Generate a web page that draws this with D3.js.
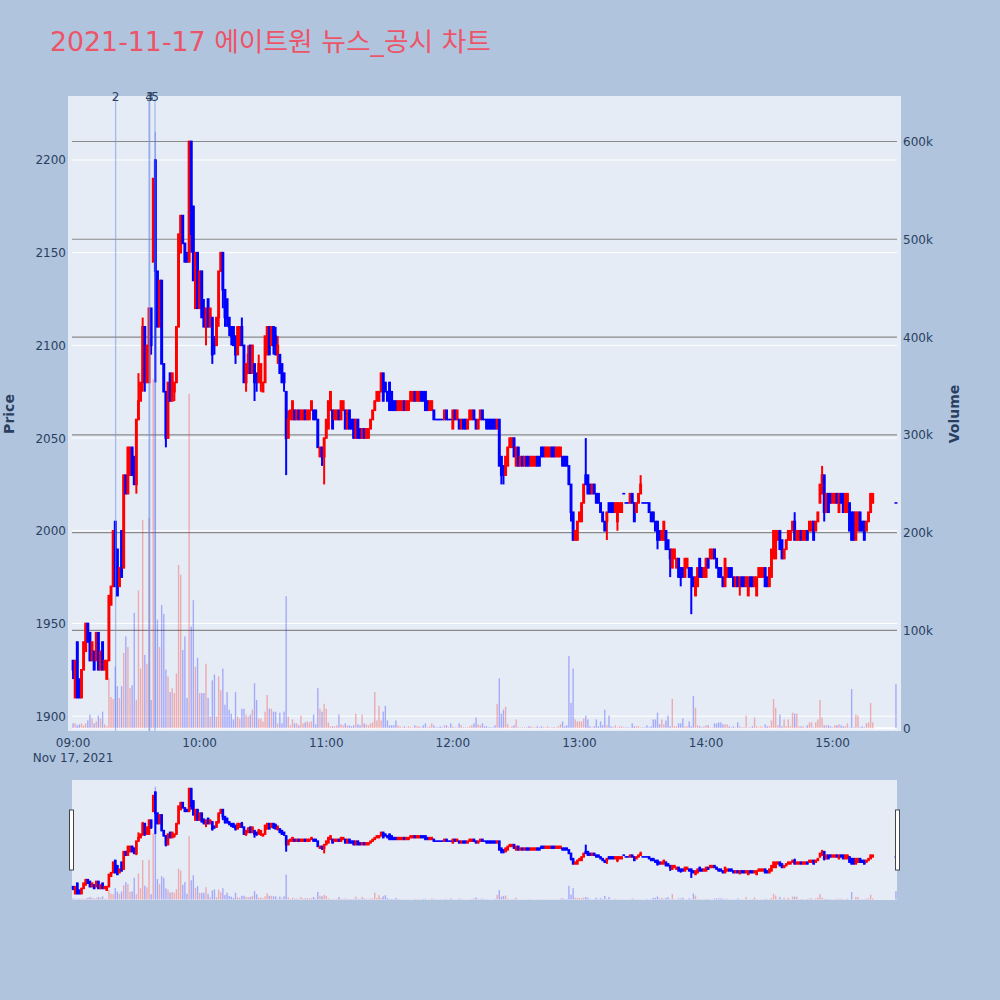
<!DOCTYPE html>
<html><head><meta charset="utf-8">
<script src="https://cdn.jsdelivr.net/npm/d3@7/dist/d3.min.js"></script>
<style>body{margin:0;background:#b0c4de;} svg{display:block}</style>
</head><body><svg id="c" width="1000" height="1000"></svg>
<script>
const chartTitle = "2021-11-17 에이트원 뉴스_공시 차트";
const sessionStart = new Date(2021,10,17,9,0);
const sessionBreak = new Date(2021,10,17,15,20);
const closingAuction = new Date(2021,10,17,15,30);
const priceTicks = [1900,1950,2000,2050,2100,2150,2200];
const volumeTicksK = [0,100,200,300,400,500,600];
const newsLabels = ["2","3","4","5"];
const newsTimes = ["09:20:10","09:36:20","09:36:00","09:38:50"];

const opens = [
1930,1910,1940,1920,1910,1925,1935,1950,1945,1930,
1935,1930,1945,1925,1940,1925,1920,1930,1960,1970,
2005,1990,1970,2000,1980,2030,2020,2030,2045,2040,
2025,2060,2070,2080,2110,2080,2080,2120,2145,2200,
2140,2110,2135,2090,2075,2050,2085,2070,2075,2080,
2110,2150,2170,2155,2150,2145,2210,2175,2120,2150,
2120,2140,2120,2110,2125,2110,2115,2100,2100,2115,
2140,2150,2130,2125,2115,2110,2110,2105,2095,2100,
2110,2100,2080,2085,2100,2085,2090,2085,2080,2080,
2075,2080,2095,2110,2100,2110,2105,2095,2095,2090,
2085,2075,2050,2060,2060,2065,2060,2065,2060,2060,
2065,2060,2060,2065,2065,2065,2060,2040,2045,2040,
2050,2055,2065,2065,2060,2060,2065,2060,2065,2065,
2055,2065,2060,2060,2050,2060,2055,2050,2055,2050,
2050,2055,2060,2065,2070,2070,2075,2085,2080,2075,
2080,2075,2070,2070,2065,2065,2065,2070,2065,2065,
2070,2070,2075,2070,2070,2075,2075,2075,2070,2065,
2065,2065,2060,2060,2060,2060,2060,2065,2060,2060,
2055,2065,2060,2060,2055,2060,2060,2055,2060,2060,
2065,2060,2055,2060,2065,2060,2060,2060,2060,2060,
2060,2055,2060,2040,2035,2030,2035,2045,2045,2050,
2035,2045,2035,2040,2035,2040,2040,2035,2035,2035,
2040,2040,2045,2045,2040,2040,2040,2045,2045,2040,
2040,2040,2040,2040,2040,2035,2025,2010,1995,1995,
2005,2005,2015,2030,2030,2025,2020,2025,2020,2020,
2015,2010,2005,2005,2015,2015,2015,2010,2005,2010,
2010,2020,2015,2015,2015,2020,2015,2010,2015,2020,
2015,2015,2015,2015,2010,2010,2005,2005,2000,1995,
1995,2000,1995,1990,1980,1985,1980,1985,1980,1980,
1975,1980,1980,1980,1975,1965,1970,1985,1980,1975,
1975,1985,1985,1985,1990,1985,1980,1980,1975,1970,
1975,1980,1980,1975,1970,1975,1970,1975,1975,1970,
1965,1975,1975,1970,1965,1975,1975,1975,1980,1975,
1970,1975,1985,1985,1995,2000,1995,1985,1990,1995,
1995,2000,2005,1995,1995,2000,1995,1995,2000,2000,
2000,2005,2000,2005,2015,2020,2030,2010,2020,2020,
2015,2015,2020,2010,2020,2020,2010,2010,2015,2010,
2010,1995,2000,2010,2005,2005,2000,2005,2010,2015,
2015];
const highs = [
1930,1930,1940,1920,1925,1940,1950,1950,1945,1940,
1935,1945,1945,1935,1940,1930,1930,1965,1970,2000,
2005,1990,1980,2000,2030,2030,2045,2045,2045,2040,
2060,2085,2080,2115,2110,2100,2120,2120,2190,2200,
2140,2135,2135,2090,2075,2080,2085,2085,2080,2110,
2160,2170,2170,2155,2150,2210,2210,2175,2150,2150,
2140,2140,2125,2120,2125,2120,2115,2105,2115,2140,
2150,2150,2130,2125,2115,2110,2110,2105,2110,2110,
2115,2100,2090,2100,2100,2100,2090,2085,2095,2090,
2080,2105,2110,2110,2110,2110,2110,2105,2095,2090,
2085,2075,2065,2065,2070,2065,2065,2065,2065,2065,
2065,2065,2065,2070,2065,2065,2060,2045,2045,2050,
2060,2070,2075,2065,2065,2065,2065,2070,2070,2065,
2065,2065,2060,2060,2060,2060,2055,2055,2055,2055,
2055,2060,2065,2070,2075,2075,2085,2085,2080,2075,
2080,2075,2070,2070,2070,2070,2070,2070,2070,2070,
2075,2075,2075,2075,2075,2075,2075,2075,2070,2070,
2070,2065,2060,2060,2060,2060,2065,2065,2060,2060,
2065,2065,2065,2060,2060,2060,2060,2060,2065,2065,
2065,2060,2060,2065,2065,2060,2060,2060,2060,2060,
2060,2060,2060,2040,2035,2040,2045,2050,2050,2050,
2045,2045,2040,2040,2040,2040,2040,2040,2040,2040,
2040,2040,2045,2045,2045,2045,2045,2045,2045,2045,
2045,2045,2040,2040,2040,2035,2025,2010,2000,2005,
2010,2015,2025,2050,2030,2025,2025,2025,2020,2020,
2015,2010,2005,2010,2015,2015,2015,2015,2015,2015,
2015,2020,2015,2015,2020,2020,2015,2015,2020,2030,
2015,2015,2015,2015,2010,2010,2005,2005,2000,2000,
2005,2000,1995,1990,1990,1990,1985,1985,1980,1980,
1985,1985,1980,1980,1975,1975,1980,1985,1980,1980,
1985,1985,1990,1990,1990,1985,1980,1980,1975,1985,
1980,1980,1980,1975,1975,1975,1975,1975,1975,1975,
1975,1975,1975,1975,1975,1980,1980,1980,1980,1975,
1980,1990,2000,2000,2000,2000,1995,1990,1995,2000,
2000,2005,2010,2000,2000,2000,2000,2000,2000,2005,
2005,2005,2005,2010,2025,2035,2030,2020,2020,2020,
2020,2020,2020,2020,2020,2020,2020,2020,2015,2010,
2010,2010,2010,2010,2005,2005,2005,2010,2020,2020,
2015];
const lows = [
1920,1910,1910,1910,1910,1925,1935,1940,1930,1930,
1925,1930,1925,1925,1925,1925,1920,1930,1960,1970,
1970,1965,1970,1975,1980,2020,2020,2030,2030,2025,
2020,2060,2070,2075,2075,2080,2080,2095,2145,2080,
2110,2110,2090,2075,2045,2050,2070,2070,2070,2080,
2110,2150,2155,2145,2145,2145,2150,2135,2120,2120,
2120,2115,2110,2100,2110,2110,2090,2095,2100,2110,
2140,2120,2110,2110,2105,2100,2100,2090,2095,2100,
2100,2080,2075,2085,2085,2085,2070,2075,2080,2075,
2075,2080,2095,2095,2100,2095,2095,2090,2085,2080,
2075,2030,2050,2060,2060,2060,2060,2060,2060,2060,
2060,2060,2060,2065,2060,2060,2045,2040,2035,2025,
2050,2055,2065,2055,2060,2060,2060,2060,2065,2055,
2055,2055,2055,2050,2050,2050,2050,2050,2050,2050,
2050,2055,2060,2065,2070,2070,2075,2070,2075,2070,
2065,2065,2065,2065,2065,2065,2065,2065,2065,2065,
2070,2070,2070,2070,2070,2070,2070,2065,2065,2065,
2065,2060,2060,2060,2060,2060,2060,2060,2060,2060,
2055,2060,2060,2055,2055,2055,2055,2055,2060,2060,
2060,2055,2055,2060,2060,2060,2055,2055,2055,2055,
2055,2055,2035,2025,2025,2030,2035,2045,2045,2040,
2035,2035,2035,2035,2035,2035,2035,2035,2035,2035,
2035,2035,2040,2040,2040,2040,2040,2040,2040,2040,
2040,2040,2035,2035,2035,2025,2005,1995,1995,1995,
2005,2005,2015,2025,2020,2020,2020,2020,2015,2015,
2010,2005,2000,1995,2010,2010,2010,2010,2000,2010,
2010,2020,2015,2015,2015,2015,2005,2010,2015,2020,
2015,2015,2015,2010,2005,2005,2000,1990,1995,1995,
1995,1990,1990,1975,1980,1985,1980,1975,1970,1975,
1975,1980,1975,1955,1970,1965,1970,1975,1975,1975,
1975,1980,1985,1985,1985,1980,1975,1975,1970,1970,
1975,1975,1975,1970,1970,1970,1965,1970,1970,1970,
1965,1970,1970,1970,1965,1975,1975,1975,1970,1970,
1970,1975,1985,1985,1995,1990,1985,1985,1990,1995,
1995,2000,1995,1995,1995,1995,1995,1995,1995,2000,
2000,1995,2000,2005,2015,2020,2005,2010,2010,2015,
2015,2015,2015,2010,2015,2010,2010,2010,2000,1995,
1995,1995,2000,2000,2000,1995,2000,2005,2010,2015,
2015];
const closes = [
1925,1930,1910,1910,1925,1940,1950,1940,1930,1940,
1925,1945,1925,1935,1925,1930,1930,1965,1970,2000,
1970,1965,1980,1975,2030,2020,2045,2045,2030,2025,
2060,2070,2080,2110,2080,2100,2120,2100,2190,2140,
2110,2135,2090,2075,2050,2080,2070,2085,2080,2110,
2160,2170,2155,2145,2145,2210,2160,2135,2150,2120,
2140,2115,2110,2120,2110,2120,2095,2100,2115,2140,
2150,2130,2115,2115,2110,2105,2100,2095,2110,2110,
2100,2080,2090,2095,2085,2100,2080,2080,2090,2090,
2080,2105,2110,2095,2110,2100,2095,2100,2085,2080,
2080,2050,2060,2065,2070,2060,2065,2060,2065,2065,
2060,2065,2065,2070,2060,2060,2045,2045,2040,2050,
2060,2070,2075,2055,2065,2065,2060,2070,2070,2055,
2065,2055,2055,2050,2060,2050,2050,2055,2050,2055,
2055,2060,2065,2070,2075,2075,2085,2070,2075,2070,
2065,2065,2065,2065,2070,2070,2070,2065,2070,2070,
2075,2075,2070,2075,2075,2070,2070,2065,2065,2070,
2070,2060,2060,2060,2060,2060,2065,2060,2060,2060,
2065,2060,2065,2055,2060,2055,2055,2060,2065,2065,
2060,2055,2060,2065,2060,2060,2055,2055,2055,2055,
2055,2060,2035,2030,2030,2040,2045,2050,2050,2040,
2045,2035,2040,2035,2040,2035,2035,2040,2040,2040,
2035,2035,2040,2040,2045,2045,2045,2040,2040,2045,
2045,2045,2035,2035,2035,2025,2010,1995,2000,2005,
2010,2015,2025,2025,2020,2020,2025,2020,2015,2015,
2010,2005,2000,2010,2010,2010,2010,2015,2015,2015,
2015,2020,2015,2015,2020,2015,2005,2015,2020,2025,
2015,2015,2015,2010,2005,2005,2000,1995,1995,2000,
2005,1990,1990,1985,1990,1990,1985,1975,1975,1975,
1985,1985,1975,1975,1970,1975,1980,1975,1975,1980,
1985,1980,1990,1990,1985,1980,1975,1975,1970,1985,
1980,1975,1975,1970,1975,1970,1975,1970,1970,1975,
1975,1970,1970,1975,1975,1980,1980,1980,1970,1970,
1980,1990,2000,2000,2000,1990,1985,1990,1995,2000,
2000,2005,1995,2000,2000,1995,2000,2000,1995,2005,
2005,1995,2005,2010,2025,2030,2010,2020,2010,2015,
2020,2020,2015,2020,2015,2010,2020,2020,2000,1995,
1995,2010,2010,2000,2000,1995,2005,2010,2020,2020,
2015];
const volumesK = [
5,5,3,4,5,3,5,8,14,10,
5,7,13,10,17,4,2,51,32,30,
63,43,31,43,77,94,83,41,44,118,
29,141,61,213,75,66,215,29,357,610,
111,83,126,117,60,53,37,41,36,56,
167,157,80,94,31,342,104,131,63,72,
36,36,36,66,31,12,49,55,12,53,
39,61,24,37,19,15,9,37,12,10,
20,20,14,12,14,19,46,29,10,10,
7,17,34,20,20,17,17,5,16,5,
17,135,12,3,9,5,5,3,13,5,
6,7,6,7,14,4,41,20,17,25,
20,6,2,2,2,3,14,4,3,5,
3,3,2,3,15,4,3,14,5,4,
3,5,6,37,8,23,8,17,23,8,
3,3,3,8,3,2,1,2,1,2,
1,1,3,2,2,1,3,5,1,2,
5,3,1,1,2,1,3,3,1,5,
2,1,1,5,3,1,1,1,2,3,
5,11,4,3,5,2,2,1,1,1,
3,25,51,15,19,22,4,1,2,3,
9,1,1,1,1,1,2,2,1,1,
2,1,2,1,1,2,1,1,1,1,
2,4,7,2,3,74,26,61,9,7,
7,7,10,13,9,2,1,2,9,2,
7,3,19,3,13,2,1,3,1,2,
2,1,1,1,1,5,2,2,2,1,
1,1,3,1,2,9,9,16,4,9,
4,8,13,2,30,2,2,5,5,10,
2,2,7,2,33,21,3,2,1,2,
3,3,1,1,5,5,6,6,4,4,
4,2,1,2,1,6,2,1,1,13,
1,1,2,11,2,1,2,1,4,2,
2,8,30,21,3,14,2,9,2,9,
2,16,15,15,2,2,2,1,3,6,
6,1,6,9,29,11,3,3,3,2,
1,3,3,4,3,2,2,5,1,40,
1,14,13,1,2,1,5,6,26,6,
45];

const times = d3.timeMinute.range(sessionStart, sessionBreak).concat([closingAuction]);
const parseT = d3.timeParse("%Y-%m-%d %H:%M:%S");
const newsDates = newsTimes.map(t => parseT("2021-11-17 " + t));

const rows = times.map((t,i) => ({t, o:opens[i], h:highs[i], l:lows[i], c:closes[i], v:volumesK[i]}));

const UP = "#ff0000", DOWN = "#0000ff", FONT = "'DejaVu Sans','Noto Sans CJK KR',sans-serif", TXT = "#2a3f5f";
const svg = d3.select("#c");
const P = {l:72, r:897, t:96, b:731};
const x = d3.scaleTime().domain([d3.timeSecond.offset(sessionStart,-30), d3.timeSecond.offset(closingAuction,30)]).range([P.l,P.r]);
const yP = d3.scaleLinear().domain([1892,2234.5]).range([P.b,P.t]);
const yV = d3.scaleLinear().domain([-2.8,646.5]).range([P.b,P.t]);

svg.append("rect").attr("width",1000).attr("height",1000).attr("fill","#b0c4de");
svg.append("text").attr("x",50).attr("y",51).attr("font-family",FONT).attr("font-size",26)
  .attr("fill","#ec5468").attr("textLength",441).attr("lengthAdjust","spacingAndGlyphs").text(chartTitle);

svg.append("rect").attr("x",68).attr("y",P.t).attr("width",901-68).attr("height",P.b-P.t).attr("fill","#e5ecf6");

const g = svg.append("g");
priceTicks.forEach(p => g.append("line").attr("x1",P.l).attr("x2",P.r).attr("y1",yP(p)).attr("y2",yP(p)).attr("stroke","#fff").attr("stroke-width",1));
volumeTicksK.filter(v=>v>0).forEach(v => g.append("line").attr("x1",P.l).attr("x2",P.r).attr("y1",yV(v)).attr("y2",yV(v)).attr("stroke","#8a8a8a").attr("stroke-width",1.2));
g.append("line").attr("x1",P.l).attr("x2",P.r).attr("y1",yV(0)).attr("y2",yV(0)).attr("stroke","#fff").attr("stroke-width",2);

svg.append("clipPath").attr("id","pc").append("rect").attr("x",68).attr("y",P.t).attr("width",833).attr("height",P.b-P.t);
const pg = svg.append("g").attr("clip-path","url(#pc)");

function drawCandles(gr, yScale, bodyW, wickW){
  gr.selectAll(null).data(rows).enter().append("line")
    .attr("x1",d=>x(d.t)).attr("x2",d=>x(d.t))
    .attr("y1",d=>yScale(d.h)).attr("y2",d=>yScale(d.l))
    .attr("stroke",d=>d.c>d.o?UP:DOWN).attr("stroke-width",wickW);
  gr.selectAll(null).data(rows).enter().append("rect")
    .attr("x",d=>x(d.t)-bodyW/2).attr("width",bodyW)
    .attr("y",d=>Math.min(yScale(d.o),yScale(d.c))-0.8)
    .attr("height",d=>Math.max(1.6,Math.abs(yScale(d.o)-yScale(d.c))+1.6))
    .attr("fill",d=>d.c>d.o?UP:DOWN);
}
function drawVolume(gr, yScale, w){
  gr.selectAll(null).data(rows).enter().append("rect")
    .attr("x",d=>x(d.t)-w/2).attr("width",w)
    .attr("y",d=>yScale(d.v)).attr("height",d=>yScale(0)-yScale(d.v))
    .attr("fill",d=>d.c>d.o?UP:DOWN).attr("opacity",0.28);
}
drawCandles(pg, yP, 2.9, 2);
drawVolume(pg, yV, 1.4);

// news lines (above traces)
newsDates.forEach((d,i) => {
  svg.append("line").attr("x1",x(d)).attr("x2",x(d)).attr("y1",P.t).attr("y2",P.b)
    .attr("stroke","#6f8fe8").attr("stroke-opacity",0.55).attr("stroke-width",1.3);
  svg.append("text").attr("x",x(d)).attr("y",101).attr("text-anchor","middle")
    .attr("font-family",FONT).attr("font-size",12).attr("fill",TXT).text(newsLabels[i]);
});

// axes labels
priceTicks.forEach(p => svg.append("text").attr("x",66).attr("y",yP(p)+4.5).attr("text-anchor","end")
  .attr("font-family",FONT).attr("font-size",12).attr("fill",TXT).text(p));
volumeTicksK.forEach(v => svg.append("text").attr("x",903).attr("y",yV(v)+4.5).attr("text-anchor","start")
  .attr("font-family",FONT).attr("font-size",12).attr("fill",TXT).text(v===0?"0":v+"k"));
const hourTicks = d3.timeHour.range(sessionStart, closingAuction);
const fmt = d3.timeFormat("%H:%M");
hourTicks.forEach((t,i) => {
  svg.append("text").attr("x",x(t)).attr("y",747).attr("text-anchor","middle")
    .attr("font-family",FONT).attr("font-size",12).attr("fill",TXT).text(fmt(t));
});
svg.append("text").attr("x",x(sessionStart)).attr("y",762).attr("text-anchor","middle")
  .attr("font-family",FONT).attr("font-size",12).attr("fill",TXT).text(d3.timeFormat("%b %-d, %Y")(sessionStart));
svg.append("text").attr("transform","translate(14,414) rotate(-90)").attr("text-anchor","middle")
  .attr("font-family",FONT).attr("font-size",14).attr("font-weight","bold").attr("fill",TXT).text("Price");
svg.append("text").attr("transform","translate(959,414) rotate(-90)").attr("text-anchor","middle")
  .attr("font-family",FONT).attr("font-size",14).attr("font-weight","bold").attr("fill",TXT).text("Volume");

// range slider
const S = {t:780, b:900};
svg.append("rect").attr("x",P.l).attr("y",S.t).attr("width",P.r-P.l).attr("height",S.b-S.t).attr("fill","#e5ecf6");
const ySP = d3.scaleLinear().domain(yP.domain()).range([S.b,S.t]);
const ySV = d3.scaleLinear().domain(yV.domain()).range([S.b,S.t]);
const sg = svg.append("g");
drawCandles(sg, ySP, 2.6, 2);
drawVolume(sg, ySV, 1.4);
[P.l-0.5, P.r+0.5].forEach(hx => {
  svg.append("rect").attr("x",hx-2).attr("y",810).attr("width",4).attr("height",60)
    .attr("fill","#fff").attr("stroke","#444").attr("stroke-width",1);
});
</script></body></html>
